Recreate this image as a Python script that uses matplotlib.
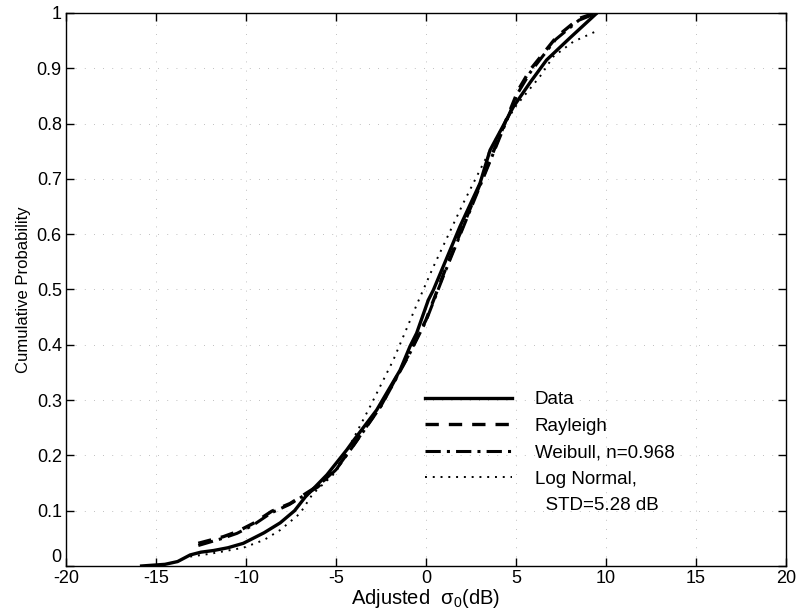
import matplotlib
matplotlib.use("Agg")
import matplotlib.pyplot as plt
from matplotlib.lines import Line2D

plt.rcParams['font.family'] = ['Liberation Sans', 'DejaVu Sans']
plt.rcParams['mathtext.fontset'] = 'custom'
plt.rcParams['mathtext.rm'] = 'Liberation Sans'
plt.rcParams['mathtext.it'] = 'Liberation Sans:italic'

# values (x in dB, y = cumulative probability)
data_x = [-15.8, -14.5, -13.8, -13.1, -12.5, -11.8, -11.0, -10.15, -9.0, -8.1,
          -7.3, -6.7, -5.5, -4.4, -4.0, -2.74, -1.44, -0.89, -0.52, 0.13, 0.41,
          1.89, 3.0, 3.56, 4.85, 5.8, 6.7, 8.0, 9.0, 9.5]
data_y = [0.0, 0.003, 0.008, 0.02, 0.025, 0.028, 0.033, 0.041, 0.06, 0.078,
          0.1, 0.125, 0.165, 0.21, 0.228, 0.282, 0.354, 0.397, 0.421, 0.481, 0.499,
          0.614, 0.692, 0.752, 0.83, 0.875, 0.915, 0.955, 0.985, 1.0]

rayl_x = [-12.65, -11.26, -10.5, -9.6, -8.57, -7.55, -6.0, -5.0, -4.0, -2.5,
          -1.0, 0.0, 1.0, 2.0, 3.0, 4.0, 5.13, 5.78, 7.26, 8.5, 9.4]
rayl_y = [0.041, 0.053, 0.062, 0.077, 0.099, 0.113, 0.145, 0.175, 0.22, 0.29,
          0.38, 0.445, 0.53, 0.61, 0.69, 0.77, 0.861, 0.897, 0.957, 0.99, 1.0]

weib_x = [-12.65, -11.3, -10.5, -9.6, -8.6, -7.6, -6.0, -5.0, -4.0, -2.5,
          -1.0, 0.0, 1.0, 2.0, 3.0, 4.0, 5.1, 5.8, 7.2, 8.5, 9.5]
weib_y = [0.037, 0.05, 0.059, 0.074, 0.096, 0.111, 0.143, 0.174, 0.219, 0.289,
          0.378, 0.443, 0.527, 0.607, 0.687, 0.767, 0.855, 0.893, 0.952, 0.987, 1.0]

logn_x = [-13.1, -12.0, -10.15, -9.0, -8.1, -7.0, -6.3, -5.0, -3.11, -1.82,
          -1.26, -0.52, 0.41, 2.07, 3.0, 4.0, 5.0, 6.33, 7.07, 8.18, 9.39]
logn_y = [0.017, 0.022, 0.033, 0.047, 0.065, 0.095, 0.13, 0.17, 0.288, 0.372,
          0.415, 0.472, 0.541, 0.656, 0.716, 0.78, 0.832, 0.885, 0.921, 0.948, 0.966]

xticks = [-20, -15, -10, -5, 0, 5, 10, 15, 20]
yticks = [0, 0.1, 0.2, 0.3, 0.4, 0.5, 0.6, 0.7, 0.8, 0.9, 1]
ytick_labels = ['0', '0.1', '0.2', '0.3', '0.4', '0.5', '0.6', '0.7',
                '0.8', '0.9', '1']

fig = plt.figure(figsize=(7.99, 6.15), dpi=100)
ax = fig.add_axes([0.0826, 0.0797, 0.9011, 0.8992])

ax.plot(data_x, data_y, color='black', lw=2.4, ls='-', label='Data')
ax.plot(rayl_x, rayl_y, color='black', lw=2.4, ls=(0, (4, 3)), label='Rayleigh')
ax.plot(weib_x, weib_y, color='black', lw=2.2, ls=(0, (5, 2, 1, 2)),
        label='Weibull, n=0.968')
ax.plot(logn_x, logn_y, color='black', lw=1.4, ls=(0, (1, 3)),
        label='Log Normal,')
blank = Line2D([], [], ls='none')

ax.set_xlim(-20, 20)
ax.set_ylim(0, 1)
ax.set_xticks(xticks)
ax.set_yticks(yticks)
ax.set_xticklabels([str(t) for t in xticks])
ax.set_yticklabels(ytick_labels)
ax.get_yticklabels()[0].set_va('bottom')
ax.tick_params(direction='in', top=True, right=True, length=6, width=1,
               labelsize=13, pad=3)
ax.grid(True, color='#aaaaaa', lw=0.6, ls=(0, (1, 10)))
for s in ax.spines.values():
    s.set_linewidth(1.0)

ax.set_xlabel('Adjusted  σ$_0$(dB)', fontsize=14.5, labelpad=0)
ax.set_ylabel('Cumulative Probability', fontsize=12, labelpad=4)

handles, labels = ax.get_legend_handles_labels()
leg = ax.legend(handles + [blank], labels + ['  STD=5.28 dB'],
                loc='upper left', bbox_to_anchor=(0.4986, 0.316),
                borderaxespad=0, borderpad=0,
                frameon=False, fontsize=13.5, handlelength=4.65,
                handletextpad=1.2, labelspacing=0.5)

fig.savefig('out.png', dpi=100)
